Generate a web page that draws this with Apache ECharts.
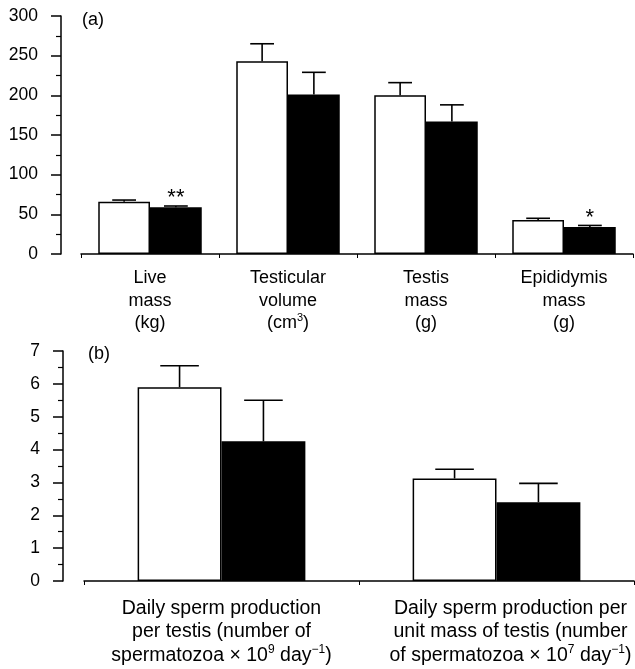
<!DOCTYPE html>
<html>
<head>
<meta charset="utf-8">
<script src="https://cdn.jsdelivr.net/npm/echarts@6/dist/echarts.min.js"></script>
<style>
html,body{margin:0;padding:0;background:#fff;}
#chart{width:635px;height:669px;}
</style>
</head>
<body>
<div id="chart"></div>
<script>
// ---- data ----
const topCategories = ['Live\nmass\n(kg)', 'Testicular\nvolume\n(cm^{3})', 'Testis\nmass\n(g)', 'Epididymis\nmass\n(g)'];
const topOpenMean = [66, 243, 200, 43];
const topOpenSem = [2, 22, 16, 2];
const topFilledMean = [59, 201, 167, 34];
const topFilledSem = [1.5, 28, 21, 2];
const topSignif = ['**', '', '', '*'];

const bottomCategories = [
  'Daily sperm production\nper testis (number of\nspermatozoa × 10^{9} day^{−1})',
  'Daily sperm production per\nunit mass of testis (number\nof spermatozoa × 10^{7} day^{−1})'
];
const bottomOpenMean = [5.9, 3.12];
const bottomOpenSem = [0.65, 0.28];
const bottomFilledMean = [4.25, 2.4];
const bottomFilledSem = [1.25, 0.57];

const topTicks = [0, 50, 100, 150, 200, 250, 300];
const bottomTicks = [0, 1, 2, 3, 4, 5, 6, 7];

// ---- chart ----
const FONT = 'Liberation Sans, Arial, Helvetica, sans-serif';
const chart = echarts.init(document.getElementById('chart'), null, {renderer: 'canvas'});

function toRich(s) { return s.replace(/\^\{([^}]*)\}/g, '{s|$1}'); }

const topGap = 0.25, bottomGap = 0.39;

function errSeries(name, means, sems, axisIdx, side, gap) {
  return {
    type: 'custom', name: name, xAxisIndex: axisIdx, yAxisIndex: axisIdx, z: 5,
    data: means.map((m, i) => [i, m, sems[i]]),
    renderItem: function (params, api) {
      const cat = api.value(0), mean = api.value(1), sem = api.value(2);
      const base = api.coord([cat, mean]);
      const top = api.coord([cat, mean + sem]);
      const band = api.size([1, 0])[0];
      const bw = band * (1 - gap) / 2;
      const x = base[0] + side * bw / 2;
      const cap = bw * 0.46;
      const st = {stroke: '#000', lineWidth: 1.6};
      return {type: 'group', children: [
        {type: 'line', shape: {x1: x, y1: base[1], x2: x, y2: top[1]}, style: st},
        {type: 'line', shape: {x1: x - cap / 2, y1: top[1], x2: x + cap / 2, y2: top[1]}, style: st}
      ]};
    }
  };
}

const yAxisCommon = {
  type: 'value', offset: 20,
  axisLine: {show: true, lineStyle: {color: '#000', width: 1.5}},
  axisTick: {show: true, length: 10, lineStyle: {color: '#000', width: 1.5}},
  minorTick: {show: true, splitNumber: 2, length: 5, lineStyle: {color: '#000', width: 1.2}},
  splitLine: {show: false}, minorSplitLine: {show: false},
  axisLabel: {color: '#000', fontSize: 17.5, fontFamily: FONT, margin: 23}
};

function xAxisFor(grid, data, size, lh, margin) {
  return {
    type: 'category', gridIndex: grid, data: data,
    axisLine: {show: true, lineStyle: {color: '#000', width: 1.5}},
    axisTick: {show: true, length: 4, lineStyle: {color: '#000', width: 1}},
    axisLabel: {
      color: '#000', fontSize: size, fontFamily: FONT, lineHeight: lh, interval: 0, margin: margin,
      formatter: v => toRich(v),
      rich: {s: {fontSize: Math.round(size * 0.62), fontFamily: FONT, color: '#000', verticalAlign: 'top', lineHeight: lh}}
    }
  };
}

const bottomAxisData = bottomCategories.map((c, i) =>
  i === 1 ? {value: c, textStyle: {padding: [0, 0, 0, 28]}} : c);

const option = {
  animation: false,
  backgroundColor: '#fff',
  textStyle: {fontFamily: FONT},
  grid: [
    {left: 81, right: 2, top: 16, height: 238},
    {left: 84, right: 1, top: 351, height: 230}
  ],
  xAxis: [
    xAxisFor(0, topCategories, 18, 22.5, 13),
    xAxisFor(1, bottomAxisData, 19.5, 23.3, 16)
  ],
  yAxis: [
    Object.assign({}, yAxisCommon, {gridIndex: 0, min: topTicks[0], max: topTicks[topTicks.length - 1], interval: topTicks[1] - topTicks[0], offset: 20}),
    Object.assign({}, yAxisCommon, {gridIndex: 1, min: bottomTicks[0], max: bottomTicks[bottomTicks.length - 1], interval: bottomTicks[1] - bottomTicks[0], offset: 21})
  ],
  graphic: [
    {type: 'text', left: 82, top: 11, style: {text: '(a)', font: '18px ' + FONT, fill: '#000'}},
    {type: 'text', left: 88, top: 345, style: {text: '(b)', font: '18px ' + FONT, fill: '#000'}}
  ],
  series: [
    {type: 'bar', name: 'open', xAxisIndex: 0, yAxisIndex: 0, data: topOpenMean,
      barGap: '0%', barCategoryGap: (topGap * 100) + '%',
      itemStyle: {color: '#fff', borderColor: '#000', borderWidth: 1.5}},
    {type: 'bar', name: 'filled', xAxisIndex: 0, yAxisIndex: 0, data: topFilledMean,
      barGap: '0%', barCategoryGap: (topGap * 100) + '%',
      itemStyle: {color: '#000', borderColor: '#000', borderWidth: 1.5},
      label: {show: true, position: 'top', distance: -2, color: '#000', fontSize: 22, fontFamily: FONT,
        formatter: p => topSignif[p.dataIndex]}},
    errSeries('openErr', topOpenMean, topOpenSem, 0, -1, topGap),
    errSeries('filledErr', topFilledMean, topFilledSem, 0, 1, topGap),
    {type: 'bar', name: 'open', xAxisIndex: 1, yAxisIndex: 1, data: bottomOpenMean,
      barGap: '0%', barCategoryGap: (bottomGap * 100) + '%',
      itemStyle: {color: '#fff', borderColor: '#000', borderWidth: 1.5}},
    {type: 'bar', name: 'filled', xAxisIndex: 1, yAxisIndex: 1, data: bottomFilledMean,
      barGap: '0%', barCategoryGap: (bottomGap * 100) + '%',
      itemStyle: {color: '#000', borderColor: '#000', borderWidth: 1.5}},
    errSeries('openErr', bottomOpenMean, bottomOpenSem, 1, -1, bottomGap),
    errSeries('filledErr', bottomFilledMean, bottomFilledSem, 1, 1, bottomGap)
  ]
};
chart.setOption(option);
</script>
</body>
</html>
